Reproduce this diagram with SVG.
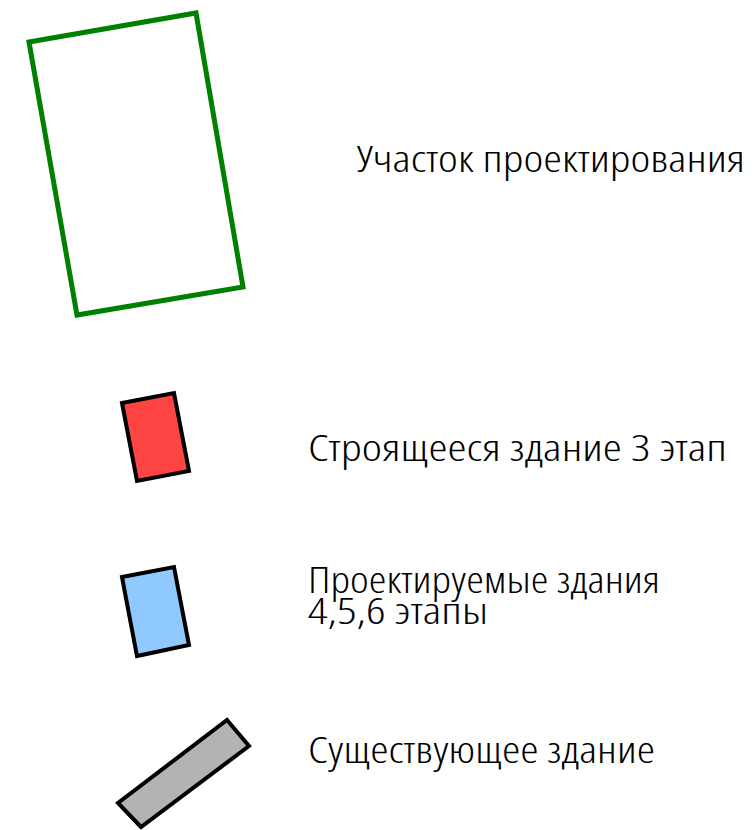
<svg xmlns="http://www.w3.org/2000/svg" width="756" height="830" viewBox="0 0 756 830">
<style>
.lbl{font-family:"Open Sans","DejaVu Sans Condensed","Liberation Sans",sans-serif;font-stretch:condensed;font-weight:300;font-size:37px;fill:#000}
.bld{stroke:#000;stroke-width:4;stroke-linejoin:miter}
</style>
<rect width="756" height="830" fill="#fff"/>
<g id="site">
<polygon points="29,42 196,13 243,287 77,315" fill="#fff" stroke="#008000" stroke-width="5"/>
<text class="lbl" x="357" y="172" textLength="388" lengthAdjust="spacingAndGlyphs">Участок проектирования</text>
</g>
<g id="building-stage3">
<polygon class="bld" points="122,403 174,393 189,471 137,481" fill="#ff4444"/>
<text class="lbl" x="308" y="461" textLength="419" lengthAdjust="spacingAndGlyphs">Строящееся здание 3 этап</text>
</g>
<g id="buildings-planned">
<polygon class="bld" points="122,577 174,567 189,645 137,656" fill="#8fc9ff"/>
<text class="lbl" x="308" y="593" textLength="352" lengthAdjust="spacingAndGlyphs">Проектируемые здания</text>
<text class="lbl" x="308" y="624" textLength="180" lengthAdjust="spacingAndGlyphs">4,5,6 этапы</text>
</g>
<g id="building-existing">
<polygon class="bld" points="227,720 249,746 141,827 118,803" fill="#b3b3b3"/>
<text class="lbl" x="308" y="763" textLength="347" lengthAdjust="spacingAndGlyphs">Существующее здание</text>
</g>
<g id="connectors"/>
</svg>
